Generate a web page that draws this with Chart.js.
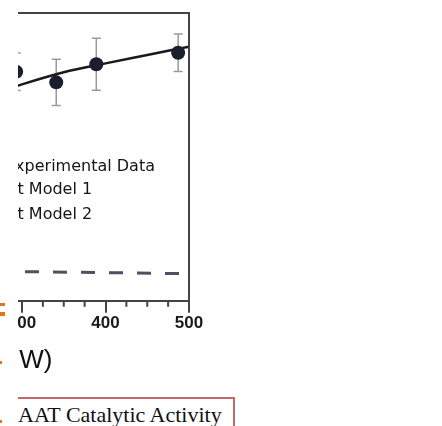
<!DOCTYPE html>
<html><head><meta charset="utf-8">
<script src="https://cdn.jsdelivr.net/npm/chart.js@4"></script>
<style>
html,body{margin:0;padding:0;background:#fff;width:442px;height:426px;overflow:hidden;position:relative;}
#clip{position:absolute;left:18px;top:0;width:424px;height:392px;overflow:hidden;}
#c{position:absolute;left:-330px;top:0;}
#cap{position:absolute;left:18px;top:397px;width:215px;height:40px;border-top:2px solid #c46a6a;border-right:2px solid #c46a6a;}
#cap span{position:absolute;left:0;top:5px;font-size:22px;font-family:"Liberation Serif",serif;line-height:1;color:#111;white-space:nowrap;}
.om{position:absolute;left:0;background:#e0761e;}
</style></head><body>
<div id="clip"><canvas id="c" width="530" height="390"></canvas></div>
<div id="cap"><span>AAT Catalytic Activity</span></div>
<div class="om" style="top:303px;width:5px;height:3px;"></div>
<div class="om" style="top:312px;width:5px;height:4px;"></div>
<div class="om" style="top:361px;width:2px;height:3px;"></div>
<div class="om" style="top:420px;width:2px;height:3px;"></div>
<script>
// ---- data ----
const seriesNames = ['Experimental Data', 'Fit Model 1', 'Fit Model 2'];
const xAxisTitle = 'Power (mW)';
const expPower = [293, 341, 389, 487];
const expActivity = [79.6, 75.9, 82.2, 86.2];
const expError = [6.5, 8.0, 9.0, 6.5];
const fit1Power = [250, 300, 350, 400, 450, 500];
const fit1Activity = [70.4, 75.2, 79.4, 82.5, 85.4, 88.3];
const fit2Power = [250, 400, 500];
const fit2Activity = [10.3, 9.8, 9.4];
const xMajorStep = 100;
const xMinorStep = 25;

const toXY = (xs, ys) => xs.map((x, i) => ({x: x, y: ys[i]}));

const frameAndMinor = {
  id: 'frameAndMinor',
  afterDraw(chart) {
    const {ctx, chartArea: a, scales: {x}} = chart;
    ctx.save();
    ctx.strokeStyle = '#444';
    ctx.lineWidth = 2;
    ctx.beginPath();
    ctx.moveTo(a.left, a.top); ctx.lineTo(a.right, a.top); ctx.lineTo(a.right, a.bottom);
    ctx.stroke();
    for (let v = x.min; v <= x.max; v += xMinorStep) {
      if (v % xMajorStep === 0) continue;
      const px = x.getPixelForValue(v);
      ctx.beginPath(); ctx.moveTo(px, a.bottom); ctx.lineTo(px, a.bottom + 6); ctx.stroke();
    }
    ctx.restore();
  }
};

const errorBars = {
  id: 'errorBars',
  beforeDatasetsDraw(chart) {
    const {ctx, scales: {x, y}} = chart;
    ctx.save();
    ctx.strokeStyle = '#9a9a9a';
    ctx.lineWidth = 1.5;
    expPower.forEach((p, i) => {
      const px = x.getPixelForValue(p);
      const t = y.getPixelForValue(expActivity[i] + expError[i]);
      const b = y.getPixelForValue(expActivity[i] - expError[i]);
      ctx.beginPath();
      ctx.moveTo(px, t); ctx.lineTo(px, b);
      ctx.moveTo(px - 4.5, t); ctx.lineTo(px + 4.5, t);
      ctx.moveTo(px - 4.5, b); ctx.lineTo(px + 4.5, b);
      ctx.stroke();
    });
    ctx.restore();
  }
};

const innerLegend = {
  id: 'innerLegend',
  afterDraw(chart) {
    const {ctx, chartArea: a} = chart;
    const rows = [154, 177, 202];
    ctx.save();
    ctx.font = '16px "DejaVu Sans"';
    ctx.textBaseline = 'middle';
    ctx.fillStyle = '#151515';
    chart.data.datasets.forEach((ds, i) => {
      const tx = a.right - 184, ty = a.top + rows[i];
      ctx.save();
      if (i === 0) {
        ctx.fillStyle = ds.backgroundColor;
        ctx.beginPath(); ctx.arc(tx - 22, ty, 6, 0, Math.PI * 2); ctx.fill();
      } else {
        ctx.strokeStyle = ds.borderColor; ctx.lineWidth = ds.borderWidth;
        ctx.setLineDash(ds.borderDash || []);
        ctx.beginPath(); ctx.moveTo(tx - 40, ty); ctx.lineTo(tx - 8, ty); ctx.stroke();
      }
      ctx.restore();
      ctx.fillText(ds.label, tx, ty);
    });
    ctx.restore();
  }
};

new Chart(document.getElementById('c'), {
  type: 'scatter',
  data: {
    datasets: [
      {label: seriesNames[0], data: toXY(expPower, expActivity), pointRadius: 7, pointHoverRadius: 7,
       backgroundColor: '#1b1e2b', borderWidth: 0, showLine: false},
      {label: seriesNames[1], data: toXY(fit1Power, fit1Activity), showLine: true, pointRadius: 0,
       borderColor: '#1a1a1a', borderWidth: 2.5, cubicInterpolationMode: 'monotone', fill: false},
      {label: seriesNames[2], data: toXY(fit2Power, fit2Activity), showLine: true, pointRadius: 0,
       borderColor: '#4d5262', borderWidth: 3, borderDash: [14, 14], borderDashOffset: 11.25, fill: false}
    ]
  },
  options: {
    responsive: false, animation: false, devicePixelRatio: 1,
    layout: {padding: {left: 83.5, right: 29, top: 13, bottom: 14}},
    plugins: {legend: {display: false}, tooltip: {enabled: false}},
    scales: {
      x: {
        type: 'linear', position: 'bottom', min: 0, max: 500,
        ticks: {stepSize: xMajorStep, color: '#1a1a1a', padding: 0,
                font: {family: '"Liberation Sans"', size: 17, weight: 'bold'}},
        grid: {drawOnChartArea: false, drawTicks: true, tickLength: 12, color: '#444', lineWidth: 2},
        border: {display: true, color: '#444', width: 2},
        title: {display: true, text: xAxisTitle, color: '#111', padding: {top: 11.6, bottom: 0},
                font: {family: '"Liberation Sans"', size: 26}}
      },
      y: {type: 'linear', min: 0, max: 100, display: false}
    }
  },
  plugins: [errorBars, frameAndMinor, innerLegend]
});
</script>
</body></html>
